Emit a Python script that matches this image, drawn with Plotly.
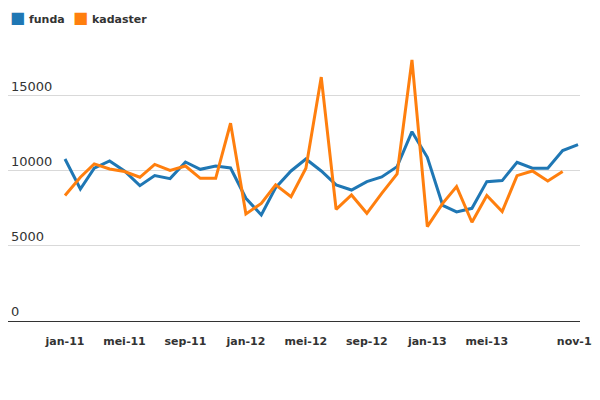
import plotly.graph_objects as go

# months jan-11 .. nov-13
months = [f"{y}-{m:02d}-01" for y in (2011, 2012, 2013) for m in range(1, 13)][:35]

funda = [10800, 8800, 10180, 10670, 10000, 9020, 9690, 9490, 10600, 10110,
         10330, 10200, 8180, 7070, 8890, 10000, 10800, 10000, 9070, 8730,
         9290, 9600, 10290, 12620, 10910, 7710, 7270, 7510, 9290, 9360,
         10580, 10180, 10180, 11360, 11760]

kadaster = [8360, 9580, 10470, 10130, 9960, 9580, 10440, 10040, 10330, 9510,
            9510, 13180, 7130, 7840, 9070, 8290, 10180, 16260, 7440, 8400,
            7180, 8510, 9800, 17400, 6290, 7840, 8960, 6580, 8360, 7290,
            9690, 10000, 9330, 9960]

tick_vals = ["2011-01-01", "2011-05-01", "2011-09-01", "2012-01-01", "2012-05-01",
             "2012-09-01", "2013-01-01", "2013-05-01", "2013-11-01"]
tick_text = ["jan-11", "mei-11", "sep-11", "jan-12", "mei-12",
             "sep-12", "jan-13", "mei-13", "nov-13"]

series_names = ["funda", "kadaster"]
blue = "#1f77b4"
orange = "#ff7f0e"

fig = go.Figure()
fig.add_trace(go.Scatter(x=months, y=funda, mode="lines", name="funda",
                         line=dict(color=blue, width=3)))
fig.add_trace(go.Scatter(x=months[:len(kadaster)], y=kadaster, mode="lines", name="kadaster",
                         line=dict(color=orange, width=3)))

# legend drawn as text with square swatches (tight spacing like the original)
for name, color, xpos in zip(series_names, [blue, orange], [0.0, 0.11]):
    fig.add_annotation(
        xref="paper", yref="paper", x=xpos, y=1.081,
        xanchor="left", yanchor="middle", showarrow=False,
        text=f"<span style='color:{color};font-size:16px'>■</span> {name}",
        font=dict(size=11, weight="bold", color="#333333"),
    )

fig.update_layout(
    width=600, height=400,
    margin=dict(l=0, r=28, t=32, b=87),
    paper_bgcolor="white", plot_bgcolor="white",
    showlegend=False,
    font=dict(family="DejaVu Sans", size=11, color="#333333"),
    xaxis=dict(
        type="date",
        range=["2010-09-08", "2013-11-05"],
        tickvals=tick_vals, ticktext=tick_text,
        showgrid=False, showline=True, linecolor="#333333", linewidth=1,
        ticks="", tickfont=dict(size=11, weight="bold", color="#333333"),
        ticklabelstandoff=10,
    ),
    yaxis=dict(
        range=[0, 18730],
        tickvals=[0, 5000, 10000, 15000], tickformat="d",
        ticklabelposition="inside top",
        showgrid=True, gridcolor="#d9d9d9", gridwidth=1,
        zeroline=False, showline=False, ticks="",
        tickfont=dict(size=13, color="#333333"),
    ),
)

fig.write_html("out.html")
